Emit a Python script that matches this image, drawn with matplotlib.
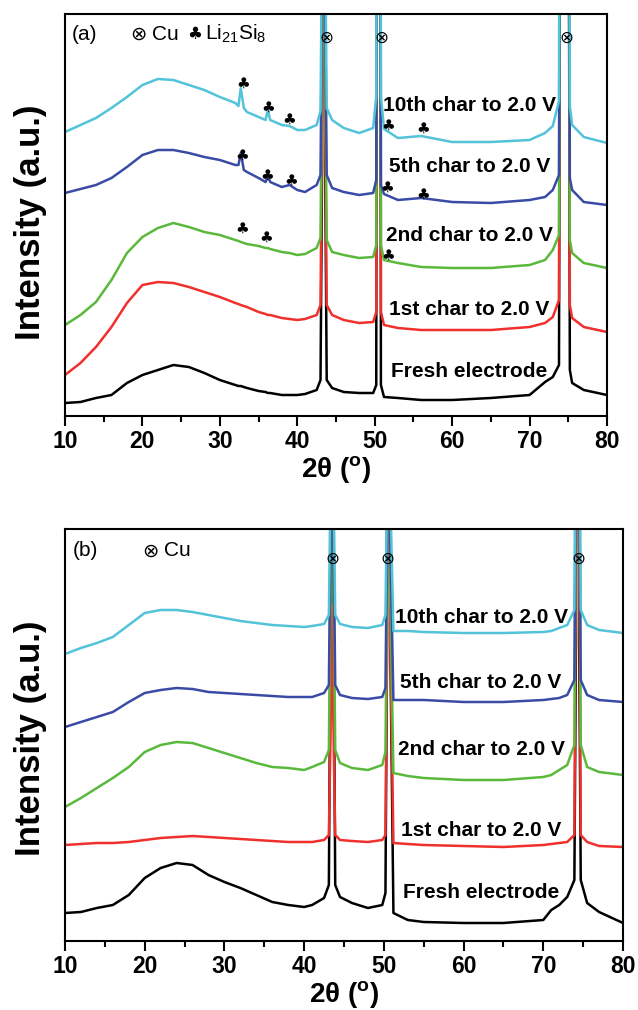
import matplotlib
matplotlib.use("Agg")
import matplotlib.pyplot as plt
from matplotlib.ticker import MultipleLocator

plt.rcParams['font.family'] = ['Liberation Sans', 'DejaVu Sans']
plt.rcParams['mathtext.fontset'] = 'custom'
plt.rcParams['mathtext.rm'] = 'Liberation Sans'
plt.rcParams['mathtext.default'] = 'regular'

# ---- panel (a): 2theta grid and intensities (a.u., stacked) ----
xa = [10, 12, 14, 16, 18, 20, 22, 24, 26, 28, 30, 32, 32.4, 32.7, 33.1, 33.5,
      35, 35.9, 36.2, 36.5, 38, 39, 40, 41, 42.5, 43.0, 43.2, 43.4, 43.6, 43.8,
      44.5, 46, 48, 49.8, 50.2, 50.5, 50.8, 51.2, 53, 56, 60, 65, 70, 72, 73,
      73.8, 74.2, 74.5, 74.8, 75.2, 75.5, 77, 80]
a_10th = [284, 291, 298, 308, 319, 331, 337, 336, 331, 326, 319, 313, 310, 328, 308, 304,
          299, 296, 306, 296, 291, 290, 286, 286, 291, 305, 480, 3000, 480, 308,
          296, 288, 283, 288, 320, 3000, 320, 287, 278, 280, 274, 274, 276, 283, 290,
          315, 2000, 3000, 2000, 310, 291, 279, 273]
a_5th = [223, 227, 231, 238, 249, 261, 266, 266, 263, 259, 256, 251, 251, 263, 246, 244,
         238, 234, 240, 234, 229, 231, 226, 224, 231, 241, 420, 3000, 420, 241,
         228, 224, 221, 223, 236, 3000, 231, 222, 216, 218, 214, 213, 216, 219, 226,
         241, 1500, 3000, 1500, 238, 226, 214, 211]
a_2nd = [91, 101, 114, 136, 163, 179, 188, 193, 189, 184, 181, 176, 175, 174, 173, 172,
         170, 168, 168, 167, 164, 163, 161, 162, 168, 178, 360, 3000, 360, 176,
         164, 161, 158, 159, 171, 3000, 171, 156, 153, 149, 148, 148, 151, 156, 166,
         181, 1500, 3000, 1500, 176, 163, 153, 148]
a_1st = [41, 53, 69, 89, 113, 131, 134, 133, 129, 124, 119, 113, 112, 111, 110, 109,
         104, 102, 101, 101, 98, 97, 96, 97, 101, 111, 300, 3000, 300, 111,
         101, 96, 93, 94, 104, 3000, 104, 91, 88, 86, 86, 86, 89, 93, 99,
         116, 1500, 3000, 1500, 111, 98, 89, 84]
a_fresh = [13, 14, 18, 21, 33, 41, 46, 51, 49, 43, 36, 31, 30, 30, 29, 28,
           25, 24, 23, 23, 21, 21, 21, 22, 26, 36, 250, 3000, 250, 36,
           28, 24, 23, 23, 31, 3000, 31, 19, 18, 16, 16, 18, 21, 34, 39,
           51, 1500, 3000, 1500, 46, 33, 26, 21]

# ---- panel (b) ----
xb = [10, 12, 14, 16, 18, 20, 22, 24, 26, 28, 30, 32, 34, 36, 38, 40, 41, 42.5,
      43.1, 43.3, 43.5, 43.7, 43.9, 44.5, 46, 48, 49.8, 50.2, 50.4, 50.6, 50.8,
      51.2, 53, 55, 60, 65, 70, 71, 72, 73, 73.9, 74.1, 74.3, 74.5, 74.7, 75.5,
      77, 80]
b_10th = [287, 293, 298, 304, 316, 328, 331, 331, 329, 326, 323, 320, 318, 316, 315, 314, 315, 317,
          326, 450, 3000, 450, 326, 317, 314, 313, 316, 326, 450, 3000, 450,
          310, 310, 309, 308, 308, 309, 310, 313, 316, 331, 600, 3000, 600, 331, 316,
          311, 308]
b_5th = [214, 219, 224, 229, 239, 248, 251, 253, 252, 249, 248, 247, 246, 245, 244, 244, 244, 248,
         256, 400, 3000, 400, 256, 246, 243, 242, 244, 253, 400, 3000, 400,
         241, 241, 241, 239, 239, 241, 242, 243, 246, 261, 500, 3000, 500, 261, 246,
         241, 239]
b_2nd = [134, 143, 153, 163, 174, 189, 196, 199, 198, 193, 188, 183, 178, 174, 173, 171, 174, 179,
         191, 350, 3000, 350, 191, 178, 173, 171, 176, 189, 350, 3000, 350,
         168, 165, 163, 161, 161, 164, 166, 171, 176, 196, 500, 3000, 500, 196, 174,
         169, 166]
b_1st = [96, 97, 98, 98, 99, 101, 103, 104, 105, 104, 103, 102, 101, 100, 99, 99, 99, 101,
         106, 200, 336, 200, 106, 101, 100, 99, 101, 106, 300, 3000, 300,
         98, 97, 96, 95, 94, 96, 97, 98, 99, 106, 400, 3000, 400, 106, 99,
         95, 94]
b_fresh = [28, 29, 33, 36, 46, 63, 73, 78, 76, 66, 59, 53, 46, 39, 36, 34, 36, 43,
           56, 300, 3000, 300, 56, 44, 38, 33, 36, 48, 300, 3000, 300,
           28, 21, 19, 18, 18, 21, 31, 36, 44, 61, 300, 3000, 300, 61, 38,
           29, 18]

labels = ["Fresh electrode", "1st char to 2.0 V", "2nd char to 2.0 V",
          "5th char to 2.0 V", "10th char to 2.0 V"]
colors = ["black", "#f0302c", "#5ab93c", "#3a4ba6", "#52c3d8"]

label_y_a = [44, 106, 180, 249, 310]
label_y_b = [48, 111, 192, 259, 324]

cu_x_a = [43.7, 50.8, 74.7]
cu_x_b = [43.5, 50.5, 74.4]
club_a = [(33.0, 333), (36.2, 309), (38.9, 297), (51.8, 291), (56.2, 288),
          (32.9, 261), (36.1, 241), (39.2, 236), (51.6, 229), (56.2, 222),
          (32.9, 188), (36.0, 179), (51.8, 161)]

fig = plt.figure(figsize=(6.38, 10.10), dpi=100)
ax1 = fig.add_axes([65/638, 1-416/1010, 542/638, 402/1010])
ax2 = fig.add_axes([65/638, 1-941/1010, 558/638, 412/1010])


def style(ax, ymax):
    ax.set_xlim(10, 80)
    ax.set_ylim(0, ymax)
    ax.set_yticks([])
    ax.xaxis.set_major_locator(MultipleLocator(10))
    ax.xaxis.set_minor_locator(MultipleLocator(5))
    ax.tick_params(axis='x', which='major', direction='out', length=7, width=1.5,
                   labelsize=16.5, pad=3)
    ax.tick_params(axis='x', which='minor', direction='out', length=4, width=1.5)
    for lab in ax.get_xticklabels():
        lab.set_fontweight('bold')
    for s in ax.spines.values():
        s.set_linewidth(1.5)
    ax.set_xlabel(r"2θ ($^{o}$)", fontsize=20, fontweight='bold', labelpad=1)


series_a = [a_fresh, a_1st, a_2nd, a_5th, a_10th]
series_b = [b_fresh, b_1st, b_2nd, b_5th, b_10th]

for ys, c in zip(series_a, colors):
    ax1.plot(xa, ys, color=c, lw=1.8)
for ys, c in zip(series_b, colors):
    ax2.plot(xb, ys, color=c, lw=1.8)

for lab, y in zip(labels, label_y_a):
    ax1.text(62.2, y, lab, ha='center', va='center', fontsize=15, fontweight='bold')
for lab, y in zip(labels, label_y_b):
    ax2.text(62.2, y, lab, ha='center', va='center', fontsize=15, fontweight='bold')

for x in cu_x_a:
    ax1.text(x, 378, "⊗", ha='center', va='center', fontsize=12, family='DejaVu Sans')
for x in cu_x_b:
    ax2.text(x, 382, "⊗", ha='center', va='center', fontsize=12, family='DejaVu Sans')
for x, y in club_a:
    ax1.text(x, y, "♣", ha='center', va='center', fontsize=11, family='DejaVu Sans')

style(ax1, 402)
style(ax2, 412)

ax1.text(0.013, 0.950, "(a)", transform=ax1.transAxes, ha='left', va='center', fontsize=15)
ax1.text(0.120, 0.950, "⊗", transform=ax1.transAxes, ha='left', va='center', fontsize=14,
         family='DejaVu Sans')
ax1.text(0.160, 0.950, "Cu", transform=ax1.transAxes, ha='left', va='center', fontsize=15)
ax1.text(0.225, 0.950, "♣", transform=ax1.transAxes, ha='left', va='center', fontsize=12,
         family='DejaVu Sans')
ax1.text(0.258, 0.950, r"Li$_{21}$Si$_{8}$", transform=ax1.transAxes, ha='left', va='center',
         fontsize=15)

ax2.text(0.013, 0.947, "(b)", transform=ax2.transAxes, ha='left', va='center', fontsize=15)
ax2.text(0.138, 0.947, "⊗", transform=ax2.transAxes, ha='left', va='center', fontsize=14,
         family='DejaVu Sans')
ax2.text(0.178, 0.947, "Cu", transform=ax2.transAxes, ha='left', va='center', fontsize=15)

fig.text(31/638, 1-222/1010, "Intensity (a.u.)", rotation=90, ha='center', va='center',
         fontsize=25, fontweight='bold')
fig.text(31/638, 1-738/1010, "Intensity (a.u.)", rotation=90, ha='center', va='center',
         fontsize=25, fontweight='bold')

fig.savefig("out.png", dpi=100)
